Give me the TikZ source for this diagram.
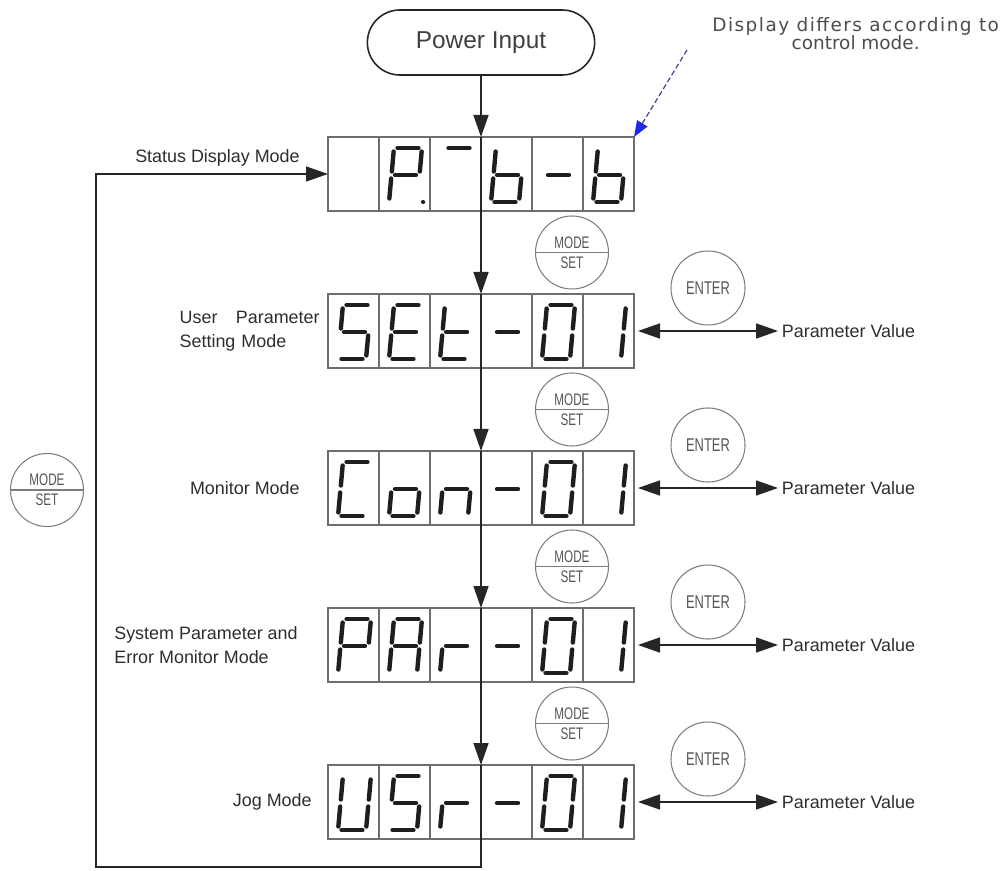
\documentclass[tikz,border=0pt]{standalone}
\usepackage{fontspec}
\setmainfont{Liberation Sans}
\newfontfamily\keyfont[FakeStretch=0.7]{Liberation Sans}
\newfontfamily\notefont{DejaVu Sans}
\usetikzlibrary{arrows.meta}
\usetikzlibrary{positioning}
\usetikzlibrary{shapes.misc}
\usetikzlibrary{shapes.multipart}
\definecolor{lcdseg}    {RGB}{30,30,30}
\definecolor{lcdframe}  {RGB}{110,110,110}
\definecolor{keyline}   {RGB}{125,125,125}
\definecolor{keytext}   {RGB}{85,85,85}
\definecolor{labeltext} {RGB}{45,45,45}
\definecolor{noteblue}  {RGB}{30,40,235}
\definecolor{notedash}  {RGB}{70,70,150}

% seven-segment strokes, origin at the cell's south west corner
\newcommand\sega{(0.37,1.26) -- (0.79,1.26)}
\newcommand\segb{(0.853,1.19) -- (0.817,0.79)}
\newcommand\segc{(0.803,0.65) -- (0.767,0.25)}
\newcommand\segd{(0.27,0.18) -- (0.69,0.18)}
\newcommand\sege{(0.243,0.65) -- (0.207,0.25)}
\newcommand\segf{(0.293,1.19) -- (0.257,0.79)}
\newcommand\segg{(0.32,0.72) -- (0.74,0.72)}
\newcommand\segp{(0.88,0.18) -- (0.881,0.18)}
\newcommand\segx{}

% #1 display node, #2 lit segments of its six cells
\newcommand\readout[2]{%
  \foreach \segs [count=\i] in {#2} {
    \begin{scope}[shift={([xshift={(\i-1)*1.02cm}]#1.south west)}]
      \foreach \s in \segs
        \draw [lcd segment] \csname seg\s\endcsname;
    \end{scope}
  }%
}

\begin{document}
\begin{tikzpicture}[
    flow/.style={black!85, line width=0.9pt},
    >={Triangle[length=0.44cm, width=0.3cm]},
    lcd/.style={rectangle, draw=lcdframe, line width=1.3pt,
                minimum width=6.12cm, minimum height=1.48cm,
                inner sep=0pt, outer sep=0pt},
    lcd split/.style={draw=lcdframe, line width=0.9pt},
    lcd segment/.style={draw=lcdseg, line width=2.5pt, line cap=round},
    modekey/.style={circle split, draw=keyline, line width=0.6pt, text=keytext,
                    font=\keyfont\fontsize{9.5}{10}\selectfont,
                    inner sep=2pt, minimum size=1.46cm},
    enterkey/.style={circle, draw=keyline, line width=0.6pt, text=keytext,
                     font=\keyfont\fontsize{10.5}{11}\selectfont,
                     inner sep=0pt, minimum size=1.48cm},
    modelabel/.style={text=labeltext, font=\fontsize{10.2}{13.5}\selectfont,
                      inner sep=2pt},
  ]
  \useasboundingbox (0,0) rectangle (20.04,17.4);

  % power input
  \node (power)
    [rounded rectangle,
     draw=black!85, line width=0.9pt,
     text=black!75,
     font=\fontsize{13.9}{16}\selectfont,
     minimum width=4.78cm, minimum height=1.3cm]
    at (9.62,16.55) {Power Input};

  % note on the first readout
  \node (note)
    [anchor=west, align=center,
     text=black!70, inner sep=2pt,
     font=\notefont\fontsize{10.5}{10.2}\selectfont]
    at (14.17,16.72)
    {{\addfontfeature{LetterSpace=8}Display differs according to}\\control mode.};
  \coordinate (notetail) at (13.74,16.4);

  % displays
  \node (status)  [lcd] at (9.62,13.92) {};
  \node (userset) [lcd, below=1.66cm of status] {};
  \node (monitor) [lcd, below=1.66cm of userset] {};
  \node (syspar)  [lcd, below=1.66cm of monitor] {};
  \node (jog)     [lcd, below=1.66cm of syspar] {};

  \foreach \d in {status,userset,monitor,syspar,jog}
    \foreach \k in {1,...,5}
      \draw [lcd split]
        ([xshift=\k*1.02cm]\d.south west) -- ([xshift=\k*1.02cm]\d.north west);

  % the flow line runs on through every display
  \foreach \d in {status,userset,monitor,syspar,jog}
    \draw [flow] (\d.north) -- (\d.south);

  \readout{status}{x,{a,b,e,f,g,p},a,{c,d,e,f,g},g,{c,d,e,f,g}}
  \readout{userset}{{a,c,d,f,g},{a,d,e,f,g},{d,e,f,g},g,{a,b,c,d,e,f},{b,c}}
  \readout{monitor}{{a,d,e,f},{c,d,e,g},{c,e,g},g,{a,b,c,d,e,f},{b,c}}
  \readout{syspar}{{a,b,e,f,g},{a,b,c,e,f,g},{e,g},g,{a,b,c,d,e,f},{b,c}}
  \readout{jog}{{b,c,d,e,f},{a,c,d,f,g},{e,g},g,{a,b,c,d,e,f},{b,c}}

  % mode names
  \node (lstatus)
    [modelabel, anchor=east]
    at ([xshift=-0.49cm, yshift=0.32cm]status.west) {Status Display Mode};
  \node (luserset)
    [modelabel, left=0.09cm of userset,
     text width=2.8cm, align=left]
    {User\hfill Parameter\\Setting Mode};
  \node (lmonitor)
    [modelabel, left=0.49cm of monitor]
    {Monitor Mode};
  \node (lsyspar)
    [modelabel, left=0.53cm of syspar, align=left]
    {System Parameter and\\Error Monitor Mode};
  \node (ljog)
    [modelabel, left=0.25cm of jog]
    {Jog Mode};

  % MODE/SET keys
  \node (ms1) [modekey] at ([xshift=1.82cm, yshift=-0.83cm]status.south)
    {MODE\nodepart{lower}SET};
  \node (ms2) [modekey] at ([xshift=1.82cm, yshift=-0.83cm]userset.south)
    {MODE\nodepart{lower}SET};
  \node (ms3) [modekey] at ([xshift=1.82cm, yshift=-0.83cm]monitor.south)
    {MODE\nodepart{lower}SET};
  \node (ms4) [modekey] at ([xshift=1.82cm, yshift=-0.83cm]syspar.south)
    {MODE\nodepart{lower}SET};
  \node (msloop) [modekey] at (0.94,7.6)
    {MODE\nodepart{lower}SET};

  % ENTER keys
  \node (ent1) [enterkey] at ([xshift=1.48cm, yshift=0.86cm]userset.east) {ENTER};
  \node (ent2) [enterkey] at ([xshift=1.48cm, yshift=0.86cm]monitor.east) {ENTER};
  \node (ent3) [enterkey] at ([xshift=1.48cm, yshift=0.86cm]syspar.east) {ENTER};
  \node (ent4) [enterkey] at ([xshift=1.48cm, yshift=0.86cm]jog.east) {ENTER};

  % parameter values
  \node (val1) [modelabel, right=2.88cm of userset.east] {Parameter Value};
  \node (val2) [modelabel, right=2.88cm of monitor.east] {Parameter Value};
  \node (val3) [modelabel, right=2.88cm of syspar.east] {Parameter Value};
  \node (val4) [modelabel, right=2.88cm of jog.east] {Parameter Value};

  % edges
  \path [flow, ->]
    (power) edge (status)
    (status) edge (userset)
    (userset) edge (monitor)
    (monitor) edge (syspar)
    (syspar) edge (jog)
    ;
  \path [flow, <->, shorten <=0.08cm]
    (userset.east) edge (val1)
    (monitor.east) edge (val2)
    (syspar.east) edge (val3)
    (jog.east) edge (val4)
    ;
  \coordinate (loopcorner) at (1.92,0.06);
  \draw [flow, ->] (jog.south) |- (loopcorner) |- (status.west);

  \draw [notedash, line width=0.7pt, dash pattern=on 3pt off 1.6pt,
         -{Triangle[length=0.32cm, width=0.24cm, color=noteblue]}]
    (notetail) -- (status.north east);
\end{tikzpicture}
\end{document}
